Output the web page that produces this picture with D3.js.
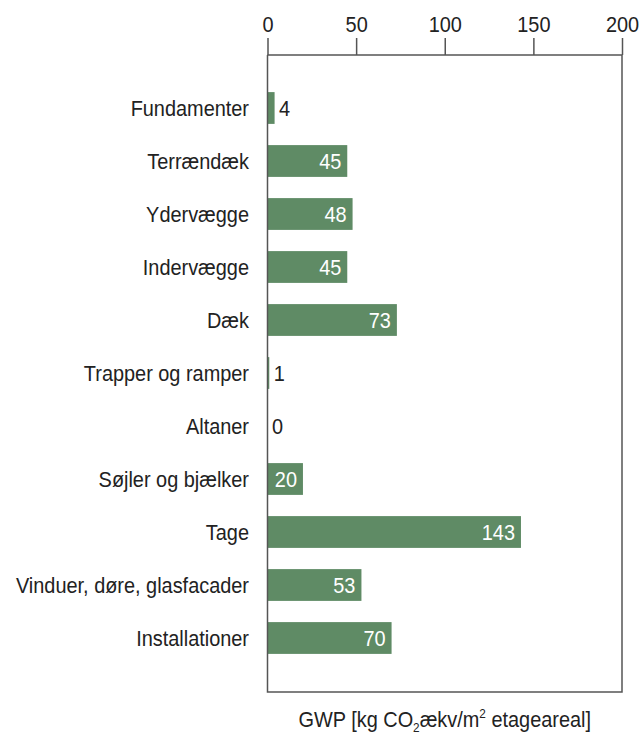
<!DOCTYPE html>
<html><head><meta charset="utf-8">
<script src="https://cdn.jsdelivr.net/npm/d3@7"></script>
<style>
body{margin:0;background:#fff;}
svg text{font-family:"Liberation Sans","Arial",sans-serif;}
</style></head>
<body><svg id="c" width="640" height="736"></svg>
<script>
const categories = ["Fundamenter","Terrændæk","Ydervægge","Indervægge","Dæk","Trapper og ramper","Altaner","Søjler og bjælker","Tage","Vinduer, døre, glasfacader","Installationer"];
const values = [4,45,48,45,73,1,0,20,143,53,70];
const ticks = [0,50,100,150,200];

(function(){
const svg = d3.select("#c");
const pL = 267.5, pR = 622, pT = 55, pB = 692;
const SX = 0.905, FS = 22;
const x = d3.scaleLinear().domain([0,200]).range([pL,pR]);
const y = d3.scaleBand().domain(categories).range([81.5,664.5]).paddingInner(0.4).paddingOuter(0.2);
const green = "#5f8b65";

// bars
svg.append("g").selectAll("rect").data(values).join("rect")
  .attr("x", x(0)).attr("y",(d,i)=>y(categories[i]))
  .attr("width", d=>x(d)-x(0)).attr("height", y.bandwidth())
  .attr("fill", green);

// frame
svg.append("path").attr("d",`M${pL},${pT}V${pB}H${pR}V${pT}`)
  .attr("fill","none").attr("stroke","#555").attr("stroke-width",1.5);

// top axis
const ax = svg.append("g").attr("transform",`translate(0,${pT})`)
  .call(d3.axisTop(x).tickValues(ticks).tickSize(17).tickPadding(6).tickFormat(d3.format("d")));
ax.selectAll("path,line").attr("stroke","#555").attr("stroke-width",1.5);
ax.select(".domain").attr("d",`M${pL},0H${pR}`);
ax.selectAll("text").attr("font-size",FS).attr("fill","#222")
  .attr("transform",`scale(${SX},1)`)
  .style("font-family",'"Liberation Sans",Arial,sans-serif');

// category labels
svg.append("g").selectAll("text").data(categories).join("text")
  .attr("transform",d=>`translate(249,${y(d)+y.bandwidth()/2}) scale(${SX},1)`)
  .attr("dy","0.36em")
  .attr("text-anchor","end").attr("font-size",FS).attr("fill","#222").text(d=>d);

// value labels
svg.append("g").selectAll("text").data(values).join("text")
  .attr("transform",(d,i)=>`translate(${d>=10 ? x(d)-6 : x(d)+4.5},${y(categories[i])+y.bandwidth()/2}) scale(${SX},1)`)
  .attr("dy","0.36em")
  .attr("text-anchor",d=> d>=10 ? "end":"start")
  .attr("fill",d=> d>=10 ? "#fff":"#222")
  .attr("font-size",FS).text(d=>d);

// axis title
const t = svg.append("text").attr("transform",`translate(${(pL+pR)/2},727) scale(${SX},1)`)
  .attr("text-anchor","middle").attr("font-size",FS).attr("fill","#222");
t.append("tspan").text("GWP [kg CO");
t.append("tspan").attr("font-size",13).attr("dy",5).text("2");
t.append("tspan").attr("dy",-5).text("ækv/m");
t.append("tspan").attr("font-size",13).attr("dy",-9).text("2");
t.append("tspan").attr("dy",9).text(" etageareal]");
})();
</script></body></html>
